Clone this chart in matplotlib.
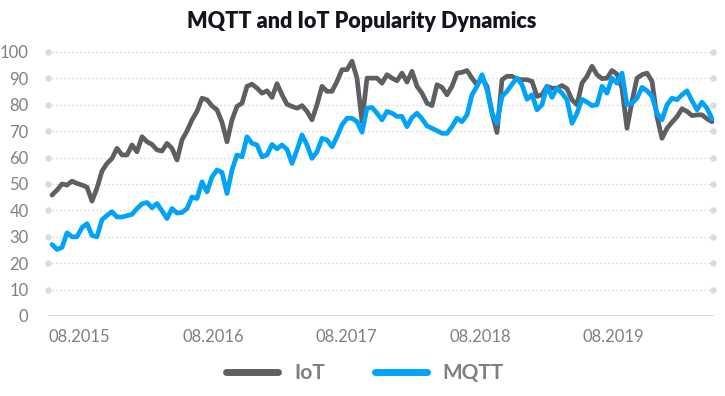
import matplotlib
matplotlib.use("Agg")
import matplotlib.pyplot as plt
import numpy as np
from matplotlib.lines import Line2D

title = "MQTT and IoT Popularity Dynamics"
series_names = ["IoT", "MQTT"]
tick_labels = ["08.2015", "08.2016", "08.2017", "08.2018", "08.2019"]
y_ticks = [0, 10, 20, 30, 40, 50, 60, 70, 80, 90, 100]

iot = [
    45.8, 47.7, 50.0, 49.6, 51.1, 50.2, 49.6, 48.8, 43.5, 48.5, 54.9, 57.8, 59.7, 63.5, 61.0, 61.0, 64.8, 62.2, 67.9, 66.0, 65.0,
    62.9, 62.5, 65.4, 63.5, 59.1, 66.7, 70.1, 74.3, 77.5, 82.5, 81.9, 79.6, 78.1, 73.4, 66.0, 74.3, 79.4, 80.6, 87.0, 87.8, 86.3, 84.4,
    85.3, 82.8, 88.0, 83.8, 80.2, 79.4, 78.7, 79.7, 77.5, 74.3, 80.0, 87.0, 85.1, 85.1, 88.9, 93.3, 93.3, 96.5, 90.1, 73.6, 90.1, 90.1,
    90.1, 88.2, 91.4, 90.1, 89.1, 92.0, 88.6, 92.7, 87.0, 84.4, 80.6, 79.7, 87.6, 86.6, 83.8, 87.0, 92.0, 92.3, 93.0, 90.1, 87.6, 90.1,
    87.0, 77.0, 69.5, 89.5, 90.8, 90.8, 89.7, 89.5, 89.5, 88.9, 83.2, 83.8, 87.0, 86.3, 86.3, 87.3, 86.1, 81.9, 80.0, 88.2, 90.8, 94.6,
    91.4, 89.9, 90.1, 93.0, 91.6, 86.3, 71.1, 81.3, 90.1, 91.4, 92.0, 88.9, 75.5, 67.3, 71.1, 73.4, 75.5, 78.5, 77.5, 75.9, 76.2, 76.2, 74.7, 73.6,
]

mqtt = [
    27.1, 25.2, 26.0, 31.5, 30.0, 30.0, 33.5, 35.0, 30.5, 30.0, 36.5, 38.1, 39.5, 37.5, 37.5, 38.0, 38.5, 40.7, 42.5, 43.0, 41.0,
    42.6, 39.8, 36.9, 40.7, 39.0, 39.2, 40.7, 45.1, 44.5, 50.8, 47.0, 52.7, 55.3, 54.4, 46.4, 55.3, 61.0, 60.3, 67.9, 65.4, 64.8, 60.3,
    61.0, 65.0, 63.3, 64.8, 63.1, 57.8, 62.9, 68.6, 64.8, 59.7, 62.2, 67.3, 66.7, 64.1, 67.9, 72.4, 74.9, 74.9, 73.6, 69.6, 78.7, 79.0,
    76.8, 74.3, 77.5, 76.8, 75.6, 75.6, 71.7, 75.2, 76.8, 74.7, 72.0, 71.1, 70.2, 69.2, 69.2, 71.7, 74.9, 73.6, 76.2, 83.8, 87.0, 91.4,
    85.7, 76.8, 73.0, 83.2, 85.1, 87.8, 90.1, 87.6, 82.1, 83.8, 78.1, 80.0, 87.0, 82.8, 86.3, 84.4, 81.9, 73.0, 76.8, 82.1, 81.0, 79.7,
    80.0, 87.0, 84.4, 90.1, 88.2, 92.0, 80.0, 80.6, 82.5, 86.6, 85.3, 83.2, 76.8, 74.3, 80.0, 82.5, 81.9, 83.8, 85.3, 81.5, 78.1, 81.0, 78.7, 74.7,
]

colors = ["#5e5f62", "#00a3f7"]
label_color = "#808080"
grid_color = "#d4d6de"

plt.rcParams["font.family"] = ["Lato", "DejaVu Sans"]

fig = plt.figure(figsize=(7.25, 3.96), dpi=100)
ax = fig.add_axes([48 / 725, 1 - 316 / 396, (713.5 - 48) / 725, (316 - 52) / 396])

x = np.arange(len(iot))
ax.plot(x, iot, color=colors[0], lw=3.4, solid_joinstyle="round", solid_capstyle="round", zorder=3, clip_on=False)
ax.plot(x, mqtt, color=colors[1], lw=3.4, solid_joinstyle="round", solid_capstyle="round", zorder=4, clip_on=False)

ax.set_xlim(-0.8, 132.3)
ax.set_ylim(0, 100)

for s in ax.spines.values():
    s.set_visible(False)

ax.set_yticks(y_ticks)
ax.set_yticklabels([str(v) for v in y_ticks])
for v in y_ticks[1:]:
    ax.axhline(v, color=grid_color, lw=0.9, ls=(0, (1.2, 2.0)), zorder=1)
ax.axhline(0, color="#d8dce2", lw=2.2, zorder=2)

# end dots of gridlines
trans = ax.get_yaxis_transform()
ax.scatter([0.0] * 10, y_ticks[1:], s=22, color="#d8dce2", transform=trans, clip_on=False, zorder=2, linewidths=0)
ax.scatter([0.9995] * 10, y_ticks[1:], s=22, color="#d8dce2", transform=trans, clip_on=False, zorder=2, linewidths=0)

tick_pos = [5.5 + 26.7 * i for i in range(len(tick_labels))]
ax.set_xticks(tick_pos)
ax.set_xticklabels(tick_labels)

ax.tick_params(axis="both", length=0, labelcolor=label_color, labelsize=12)
ax.tick_params(axis="y", pad=14)
ax.tick_params(axis="x", pad=9)
for t in ax.get_yticklabels():
    t.set_horizontalalignment("right")

fig.text(362 / 725, 1 - 21 / 396, title, ha="center", va="center",
         fontsize=15.5, fontweight="heavy", color="#14141e")

handles = [Line2D([0], [0], color=c, lw=5, solid_capstyle="round") for c in colors]
leg = fig.legend(handles, series_names, loc="center", bbox_to_anchor=(365 / 725, 1 - 373 / 396),
                 ncol=2, frameon=False, handlelength=2.5, handletextpad=0.75, columnspacing=2.4,
                 prop={"size": 15, "weight": "bold"})
for t in leg.get_texts():
    t.set_color(label_color)

fig.savefig("out.png", dpi=100)
